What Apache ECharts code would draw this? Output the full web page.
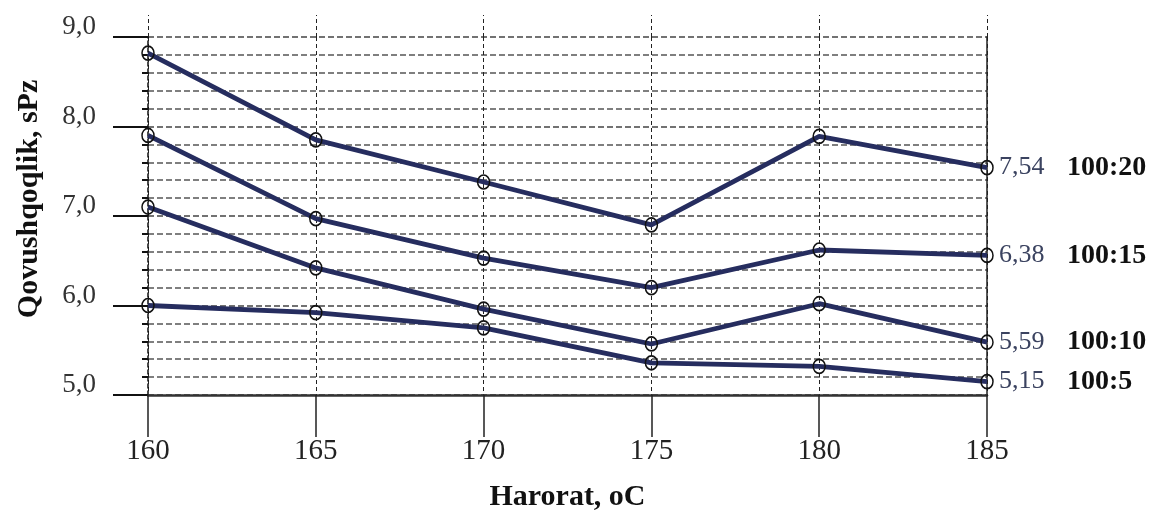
<!DOCTYPE html>
<html>
<head>
<meta charset="utf-8">
<script src="https://cdn.jsdelivr.net/npm/echarts@6/dist/echarts.min.js"></script>
<style>
  html, body { margin: 0; padding: 0; background: #fff; }
  #chart { width: 1164px; height: 517px; }
</style>
</head>
<body>
<div id="chart"></div>
<script>
// ---- data ----
const temperatures = [160, 165, 170, 175, 180, 185];
const seriesNames = ['100:20', '100:15', '100:10', '100:5'];
const ratio100_20 = [8.82, 7.85, 7.38, 6.90, 7.89, 7.54];
const ratio100_15 = [7.90, 6.97, 6.53, 6.20, 6.62, 6.56];
const ratio100_10 = [7.10, 6.42, 5.96, 5.57, 6.02, 5.59];
const ratio100_5  = [6.00, 5.92, 5.75, 5.36, 5.32, 5.15];
const endValueLabels = ['7,54', '6,38', '5,59', '5,15'];
const yTicks = [5, 6, 7, 8, 9];
const xTitle = 'Harorat, oC';
const yTitle = 'Qovushqoqlik, sPz';

const allSeries = [ratio100_20, ratio100_15, ratio100_10, ratio100_5];

const chart = echarts.init(document.getElementById('chart'), null, { renderer: 'canvas' });
const serif = '"Liberation Serif", "DejaVu Serif", serif';
const lineColor = '#262d5f';

const series = allSeries.map((vals, i) => ({
  name: seriesNames[i],
  type: 'line',
  xAxisIndex: 0,
  yAxisIndex: 0,
  data: vals.map((v, j) => [temperatures[j], v]),
  symbol: 'circle',
  symbolSize: [12, 14],
  showAllSymbol: true,
  lineStyle: { color: lineColor, width: 4.8 },
  itemStyle: { color: 'rgba(255,255,255,0)', borderColor: '#111', borderWidth: 1.6 },
  z: 3,
  endLabel: {
    show: true,
    distance: 12,
    formatter: () => '{v|' + endValueLabels[i] + '}{n|' + seriesNames[i] + '}',
    rich: {
      v: { fontFamily: serif, fontSize: 26, color: '#3b4360', width: 68 },
      n: { fontFamily: serif, fontSize: 28, fontWeight: 'bold', color: '#111' }
    }
  }
}));

const option = {
  animation: false,
  backgroundColor: '#fff',
  grid: { left: 148, right: 177, top: 37, bottom: 116, containLabel: false },
  xAxis: [
    {
      type: 'value',
      min: temperatures[0],
      max: temperatures[temperatures.length - 1],
      interval: 5,
      position: 'bottom',
      axisLine: { show: true, onZero: false, lineStyle: { color: '#333', width: 2.5 } },
      axisTick: { show: true, length: 42, lineStyle: { color: '#222', width: 1.5 } },
      axisLabel: { margin: 42, fontFamily: serif, fontSize: 29, color: '#222' },
      splitLine: { show: true, lineStyle: { color: '#222', width: 1, type: [4, 3] } },
      name: xTitle,
      nameLocation: 'middle',
      nameGap: 87,
      nameTextStyle: { fontFamily: serif, fontSize: 30, fontWeight: 'bold', color: '#111' }
    },
    {
      type: 'value',
      min: temperatures[0],
      max: temperatures[temperatures.length - 1],
      interval: 5,
      position: 'top',
      axisLine: { show: false },
      axisTick: { show: true, length: 22, lineStyle: { color: '#222', width: 1, type: [4, 3] } },
      axisLabel: { show: false },
      splitLine: { show: false }
    }
  ],
  yAxis: [
    {
      type: 'value',
      min: yTicks[0],
      max: yTicks[yTicks.length - 1],
      interval: 1,
      position: 'left',
      axisLine: { show: true, onZero: false, lineStyle: { color: '#111', width: 1.5, type: [4, 3] } },
      axisTick: { show: true, length: 35, lineStyle: { color: '#111', width: 2 } },
      minorTick: { show: true, splitNumber: 5, length: 6, lineStyle: { color: '#111', width: 2 } },
      axisLabel: {
        margin: 52,
        fontFamily: serif,
        fontSize: 27,
        lineHeight: 20,
        color: '#333',
        verticalAlign: 'bottom',
        formatter: v => v.toFixed(1).replace('.', ',')
      },
      splitLine: { show: true, lineStyle: { color: '#444', width: 1.5, type: [6, 3] } },
      minorSplitLine: { show: true, lineStyle: { color: '#555', width: 1.5, type: [6, 3] } },
      name: yTitle,
      nameLocation: 'middle',
      nameGap: 104,
      nameTextStyle: { fontFamily: serif, fontSize: 30, fontWeight: 'bold', color: '#111', padding: [0, 0, 0, 34] }
    },
    {
      type: 'value',
      min: yTicks[0],
      max: yTicks[yTicks.length - 1],
      interval: 1,
      position: 'right',
      axisLine: { show: true, lineStyle: { color: '#222', width: 1.5 } },
      axisTick: { show: false },
      axisLabel: { show: false },
      splitLine: { show: false }
    }
  ],
  series: series
};

chart.setOption(option);
</script>
</body>
</html>
